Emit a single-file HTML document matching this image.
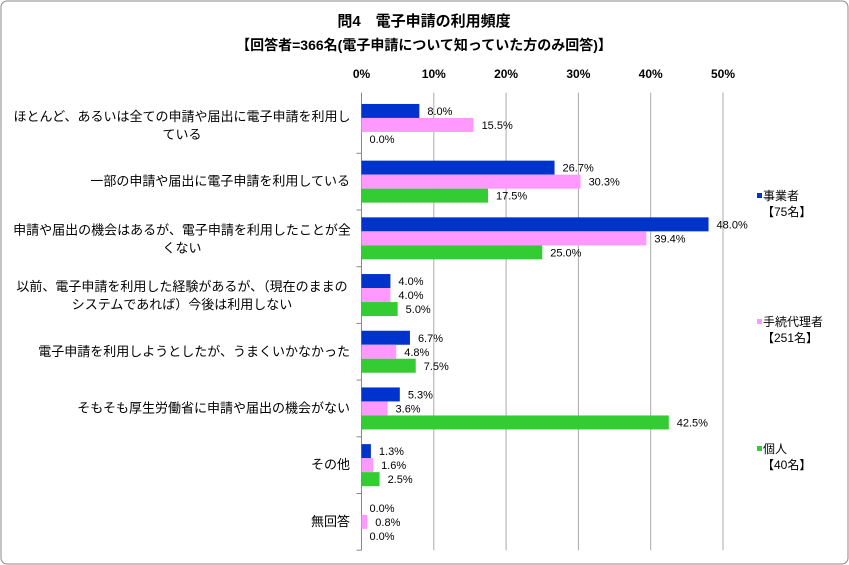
<!DOCTYPE html>
<html><head><meta charset="utf-8"><style>
body{margin:0;background:#fff;}
svg{display:block;font-family:"Liberation Sans","Noto Sans CJK JP",sans-serif;}
</style></head><body>
<svg id="c" width="849" height="565">
<rect x="1" y="1" width="847" height="563" rx="6" fill="#fff" stroke="#888" stroke-width="1"/>
<text x="424" y="26" text-anchor="middle" font-size="15" font-weight="bold">問4　電子申請の利用頻度</text>
<text x="424" y="50" text-anchor="middle" font-size="14" font-weight="bold">【回答者=366名(電子申請について知っていた方のみ回答)】</text>
<g id="plot"></g>
</svg>
<script>
const categories=["ほとんど、あるいは全ての申請や届出に電子申請を利用し|ている","一部の申請や届出に電子申請を利用している","申請や届出の機会はあるが、電子申請を利用したことが全|くない","以前、電子申請を利用した経験があるが、（現在のままの|システムであれば）今後は利用しない","電子申請を利用しようとしたが、うまくいかなかった","そもそも厚生労働省に申請や届出の機会がない","その他","無回答"];
const seriesNames=["事業者","手続代理者","個人"];
const seriesCounts=["【75名】","【251名】","【40名】"];
const jigyosha=[8.0,26.7,48.0,4.0,6.7,5.3,1.3,0.0];
const dairi=[15.5,30.3,39.4,4.0,4.8,3.6,1.6,0.8];
const kojin=[0.0,17.5,25.0,5.0,7.5,42.5,2.5,0.0];
const ticks=[0,10,20,30,40,50];
const colors=["#0033cc","#ff99ff","#33cc33"];
const series=[jigyosha,dairi,kojin];
const x0=361.5,pxPer=7.23,plotTop=96.6,pitch=56.7,bh=14;
const X=v=>x0+v*pxPer;
const g=document.getElementById('plot');
const NS="http://www.w3.org/2000/svg";
function mk(t,a,txt){const e=document.createElementNS(NS,t);for(const k in a)e.setAttribute(k,a[k]);if(txt!=null)e.textContent=txt;g.appendChild(e);return e;}
const plotBottom=plotTop+pitch*categories.length;
ticks.forEach(t=>{
 const l=mk('line',{x1:X(t),x2:X(t),y1:plotTop-4,y2:plotBottom,stroke:t===0?'#888':'#aaa','stroke-width':1});
 
 
 const tx=mk('text',{x:X(t),y:78,'text-anchor':'middle','font-size':12,'font-weight':'bold'},t+'%');
 
 
});
categories.forEach((c,i)=>{
 const yc=plotTop+pitch*i+pitch/2;
 const tk=mk('line',{x1:x0-5,x2:x0,y1:plotTop+pitch*(i+1),y2:plotTop+pitch*(i+1),stroke:'#888'});
 
 
 const parts=c.split('|');
 parts.forEach((p,j)=>{
  const multi=parts.length>1;
  const yy=multi?yc-4+j*18:yc+4;
  const t=mk('text',{x:multi?182:350,y:yy,'text-anchor':multi?'middle':'end','font-size':13},p);
  
  
 });
 series.forEach((s,k)=>{
  const y=yc-21+k*bh;
  const r=mk('rect',{x:x0,y:y,width:Math.max(0,X(s[i])-x0),height:bh,fill:colors[k]});
  
  
  const t=mk('text',{x:X(s[i])+8,y:y+11,'font-size':11},s[i].toFixed(1)+'%');
  
  
 });
});
const legY=[200,326,453];
seriesNames.forEach((n,k)=>{
 const r=mk('rect',{x:757,y:legY[k]-7,width:5,height:5,fill:colors[k]});
 
 
 const t=mk('text',{x:763,y:legY[k],'font-size':12},n);
 
 
 const t2=mk('text',{x:762,y:legY[k]+16,'font-size':12},seriesCounts[k]);
 
 
});
</script>
</body></html>
